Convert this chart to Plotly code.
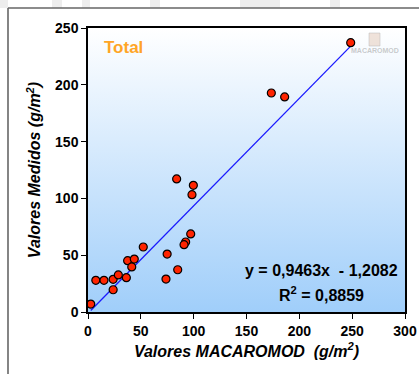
import plotly.graph_objects as go

# Modelled (MACAROMOD) vs measured biomass, g/m2
modelado = [2.6, 7.4, 15.1, 23.8, 23.8, 28.7, 36.3, 37.5, 41.4, 43.8, 52.3,
            74.9, 73.8, 84.9, 83.9, 99.7, 98.4, 97.2, 92.4, 90.9,
            173.5, 186.1, 248.6]
medido = [7.0, 27.9, 27.9, 28.8, 19.6, 32.6, 30.2, 45.2, 39.7, 46.6, 57.2,
          51.0, 29.0, 37.2, 117.1, 111.5, 103.3, 68.7, 61.6, 59.3,
          192.8, 189.3, 237.1]

pendiente = 0.9463
intercepto = -1.2082
r2 = 0.8859

x_ticks = [0, 50, 100, 150, 200, 250, 300]
y_ticks = [0, 50, 100, 150, 200, 250]

W, H = 419, 374
FONT = "Arial, Liberation Sans, sans-serif"

x0_tr = min(modelado)
x1_tr = max(modelado)

fig = go.Figure()

# plot-area background: white at the top fading to light blue at the bottom
fig.add_trace(go.Scatter(
    x=[0, 300, 300, 0, 0], y=[0, 0, 250, 250, 0],
    mode="none", fill="toself",
    fillgradient=dict(type="vertical",
                      colorscale=[[0, "rgb(160,206,250)"], [1, "rgb(255,255,255)"]]),
    hoverinfo="skip", showlegend=False,
))

# linear trendline
fig.add_trace(go.Scatter(
    x=[x0_tr, x1_tr],
    y=[pendiente * x0_tr + intercepto, pendiente * x1_tr + intercepto],
    mode="lines", line=dict(color="#1a1aff", width=1.3),
    showlegend=False, hoverinfo="skip",
))

fig.add_trace(go.Scatter(
    x=modelado, y=medido, mode="markers",
    marker=dict(size=8, color="#ff2400", line=dict(color="black", width=1.2)),
    showlegend=False,
))

px2x = lambda p: p / W
px2y = lambda p: 1 - p / H

shapes = []
# faint page stripes above the frame
for a, b in [(0, 8), (52, 62), (82, 90), (150, 160), (240, 280), (330, 340)]:
    shapes.append(dict(type="rect", xref="paper", yref="paper",
                       x0=px2x(a), x1=px2x(b), y0=px2y(8), y1=1,
                       fillcolor="rgba(225,225,225,0.6)", line=dict(width=0),
                       layer="below"))
# outer frame (left and top edges)
shapes.append(dict(type="line", xref="paper", yref="paper",
                   x0=px2x(8), x1=px2x(8), y0=0, y1=px2y(8),
                   line=dict(color="#666666", width=1.6)))
shapes.append(dict(type="line", xref="paper", yref="paper",
                   x0=px2x(8), x1=1, y0=px2y(8), y1=px2y(8),
                   line=dict(color="#666666", width=1.6)))
# watermark logo
shapes.append(dict(type="rect", xref="paper", yref="paper",
                   x0=px2x(369), x1=px2x(380), y0=px2y(46), y1=px2y(33),
                   fillcolor="rgba(215,175,150,0.35)",
                   line=dict(color="rgba(180,180,180,0.45)", width=1)))

fig.update_layout(
    width=W, height=H,
    margin=dict(l=0, r=0, t=0, b=0),
    paper_bgcolor="white",
    plot_bgcolor="rgba(0,0,0,0)",
    shapes=shapes,
    xaxis=dict(
        domain=[88 / W, 405 / W], range=[0, 300], automargin=False,
        tickvals=x_ticks, ticktext=[str(v) for v in x_ticks],
        showgrid=False, zeroline=False,
        showline=True, linecolor="black", linewidth=1.5, mirror=True,
        ticks="outside", ticklen=5, tickcolor="black", tickwidth=1.2,
        tickfont=dict(family=FONT, size=14, color="black", weight="bold"),
        title=dict(text="<i>Valores MACAROMOD  (g/m<sup>2</sup>)</i>",
                   font=dict(family=FONT, size=16, color="black", weight="bold"),
                   standoff=8),
    ),
    yaxis=dict(
        domain=[(H - 312) / H, (H - 28) / H], range=[0, 250], automargin=False,
        tickvals=y_ticks, ticktext=[str(v) for v in y_ticks],
        showgrid=False, zeroline=False,
        showline=True, linecolor="black", linewidth=1.5, mirror=True,
        ticks="outside", ticklen=5, tickcolor="black", tickwidth=1.2,
        tickfont=dict(family=FONT, size=14, color="black", weight="bold"),
        title=dict(text="<i>Valores Medidos (g/m<sup>2</sup>)</i>",
                   font=dict(family=FONT, size=16, color="black", weight="bold"),
                   standoff=10),
    ),
    annotations=[
        dict(text="Total", xref="paper", yref="paper",
             x=px2x(102), y=px2y(47), xanchor="left", yanchor="middle",
             showarrow=False,
             font=dict(family=FONT, size=17, color="#ffa526", weight="bold")),
        dict(text=f"y = {pendiente:.4f}x  - {abs(intercepto):.4f}".replace(".", ","),
             xref="paper", yref="paper",
             x=px2x(400), y=px2y(270), xanchor="right", yanchor="middle",
             showarrow=False,
             font=dict(family=FONT, size=16, color="black", weight="bold")),
        dict(text=f"R<sup>2</sup> = {r2:.4f}".replace(".", ","),
             xref="paper", yref="paper",
             x=px2x(366), y=px2y(294), xanchor="right", yanchor="middle",
             showarrow=False,
             font=dict(family=FONT, size=16, color="black", weight="bold")),
        dict(text="MACAROMOD", xref="paper", yref="paper",
             x=px2x(375), y=px2y(51), xanchor="center", yanchor="middle",
             showarrow=False,
             font=dict(family=FONT, size=7, color="rgba(160,160,160,0.55)",
                       weight="bold")),
    ],
)

fig.write_html("out.html")
